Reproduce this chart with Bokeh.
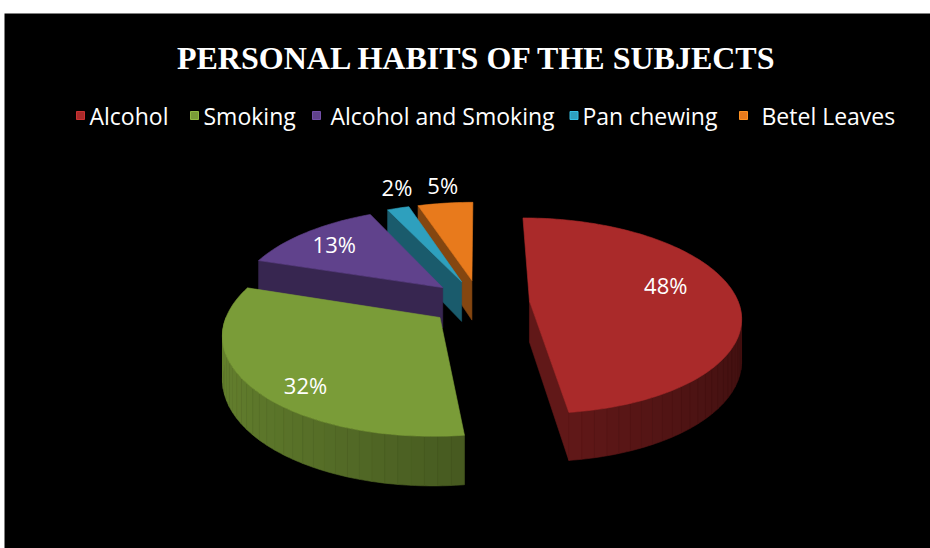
import numpy as np
from bokeh.plotting import figure
from bokeh.models import Range1d, ColumnDataSource
from bokeh.embed import file_html
from bokeh.resources import INLINE
from bokeh.core.properties import value

# ---------------- data ----------------
TITLE = "PERSONAL HABITS OF THE SUBJECTS"
CATEGORIES = ["Alcohol", "Smoking", "Alcohol and Smoking", "Pan chewing", "Betel Leaves"]
PERCENTS = [48, 32, 13, 2, 5]
COLORS = ["#AA2A2A", "#7A9C38", "#60428C", "#2EA0BE", "#E87A1C"]

# ---------------- layout / style ----------------
W, H = 930, 548
LEFT_WHITE, TOP_WHITE = 4, 13
CX, CY = 479.0, 302.0        # pie centre (page px)
RA, RB = 209.0, 96.0         # ellipse radii
PERSP = 0.15                 # perspective strength
THICK = 41.0                 # pie thickness
EXPL = 0.24                  # explode fraction
LABEL_R = [0.70, 0.82, 0.78, 1.30, 1.28]
LABEL_NUDGE = [-11, -8, 0, 4, 1]
MARK_X = [80, 194, 316, 573.5, 743]
TEXT_X = [89, 203, 330, 582, 761]
LEG_Y = 115


def shade(hexc, f):
    r, g, b = (int(hexc[i:i + 2], 16) for i in (1, 3, 5))
    c = [max(0, min(255, int(round(x * f)))) for x in (r, g, b)]
    return "#%02x%02x%02x" % tuple(c)


def proj(u, v, down=0.0):
    s = 1.0 / (1.0 + PERSP * v)
    return CX + RA * u * s, CY - RB * v * s + down * THICK * s


p = figure(width=W, height=H, output_backend="svg", toolbar_location=None,
           x_axis_type=None, y_axis_type=None,
           x_range=Range1d(LEFT_WHITE, W), y_range=Range1d(H, TOP_WHITE),
           min_border=0, min_border_top=TOP_WHITE, min_border_left=LEFT_WHITE,
           background_fill_color="black", border_fill_color="white",
           outline_line_color=None)
p.grid.visible = False

total = float(sum(PERCENTS))
slices = []
start = 0.0
for i, val in enumerate(PERCENTS):
    a1 = start
    a2 = start + 360.0 * val / total
    start = a2
    m = np.radians((a1 + a2) / 2)
    ou, ov = EXPL * np.sin(m), EXPL * np.cos(m)
    slices.append((i, a1, a2, ou, ov))

xs_all, ys_all, cols = [], [], []


def add(xs, ys, c):
    xs_all.append(list(map(float, xs)))
    ys_all.append(list(map(float, ys)))
    cols.append(c)


for i, a1, a2, ou, ov in sorted(slices, key=lambda t: -t[4]):
    col = COLORS[i]
    side_col = shade(col, 0.57)

    def rim(theta, down=0.0):
        t = np.radians(theta)
        return proj(ou + np.sin(t), ov + np.cos(t), down)

    apx_t = proj(ou, ov, 0.0)
    apx_b = proj(ou, ov, 1.0)
    # radial faces
    if np.sin(np.radians(a1)) < -1e-6:
        r_t, r_b = rim(a1), rim(a1, 1.0)
        add([apx_t[0], r_t[0], r_b[0], apx_b[0]], [apx_t[1], r_t[1], r_b[1], apx_b[1]], side_col)
    if np.sin(np.radians(a2)) > 1e-6:
        r_t, r_b = rim(a2), rim(a2, 1.0)
        add([apx_t[0], r_t[0], r_b[0], apx_b[0]], [apx_t[1], r_t[1], r_b[1], apx_b[1]], side_col)
    # outer curved side (front half only)
    lo, hi = max(a1, 90.0), min(a2, 270.0)
    if hi > lo:
        nseg = max(1, int((hi - lo) / 3))
        edges = np.linspace(lo, hi, nseg + 1)
        for k in range(nseg):
            th = np.linspace(edges[k], edges[k + 1], 4)
            top = [rim(t) for t in th]
            bot = [rim(t, 1.0) for t in th[::-1]]
            mid = np.radians((edges[k] + edges[k + 1]) / 2)
            f = 0.6 - 0.22 * np.sin(mid)
            c = shade(col, f)
            add([q[0] for q in top + bot], [q[1] for q in top + bot], c)
    # top face
    th = np.linspace(a1, a2, max(3, int((a2 - a1) / 1.5)))
    pts = [apx_t] + [rim(t) for t in th]
    add([q[0] for q in pts], [q[1] for q in pts], col)

src = ColumnDataSource(dict(xs=xs_all, ys=ys_all, c=cols))
p.patches("xs", "ys", source=src, fill_color="c", line_color="c", line_width=0.6)

# data labels
lx, ly, lt = [], [], []
for i, a1, a2, ou, ov in slices:
    t = np.radians((a1 + a2) / 2 + LABEL_NUDGE[i])
    x, y = proj(ou + LABEL_R[i] * np.sin(t), ov + LABEL_R[i] * np.cos(t))
    lx.append(float(x)); ly.append(float(y)); lt.append(f"{PERCENTS[i]}%")
p.text(lx, ly, text=lt, text_color="white", text_font=value("Open Sans"),
       text_font_size="22px", text_align="center", text_baseline="middle")

# title
p.text([477], [57], text=[TITLE], text_color="white", text_font=value("Liberation Serif"),
       text_font_style="bold", text_font_size="32px", text_align="center",
       text_baseline="middle")

# legend
p.rect(MARK_X, [LEG_Y] * len(MARK_X), width=8, height=8, fill_color=COLORS,
       line_color=[shade(c, 1.2) for c in COLORS], line_width=1)
p.text(TEXT_X, [LEG_Y] * len(TEXT_X), text=CATEGORIES, text_color="white",
       text_font=value("Open Sans"), text_font_size="23px", text_align="left",
       text_baseline="middle")

open("out.html", "w").write(file_html(p, INLINE))
